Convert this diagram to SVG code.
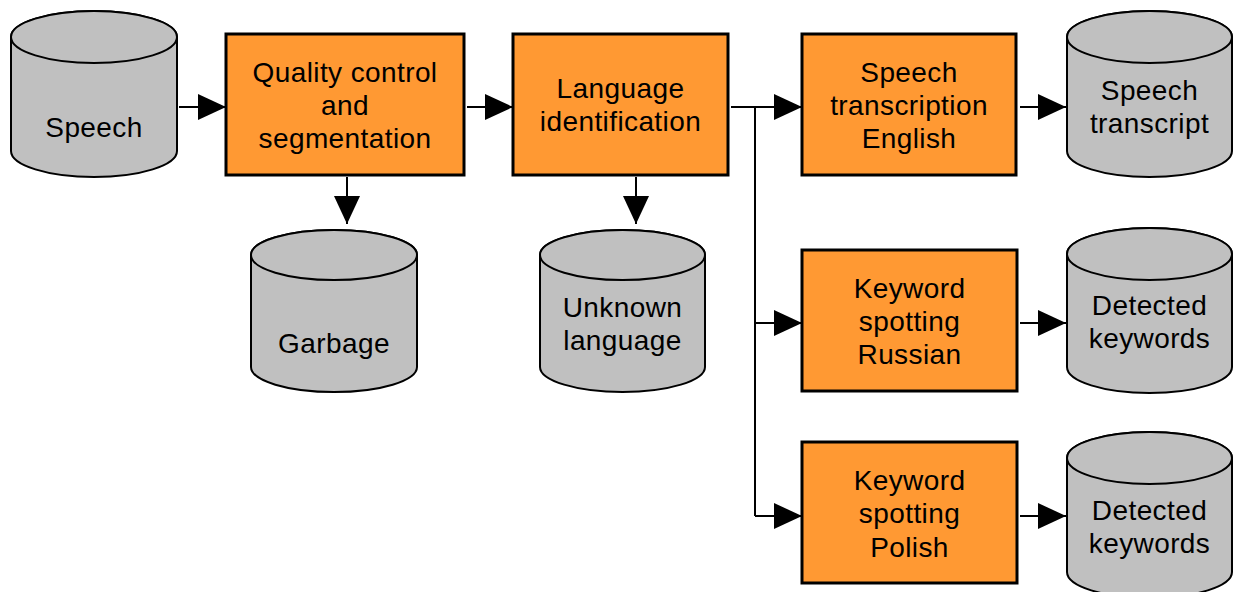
<svg xmlns="http://www.w3.org/2000/svg" width="1233" height="592" viewBox="0 0 1233 592">
<style>
.box{fill:#FF9933;stroke:#000;stroke-width:3}
.cyl{fill:#C0C0C0;stroke:#000;stroke-width:2}
.t{font-family:"Liberation Sans",Arial,sans-serif;font-size:28px;letter-spacing:0.4px;fill:#000;text-anchor:middle}
.c{fill:none;stroke:#000;stroke-width:2}
</style>
<defs>
<marker id="ah" markerUnits="userSpaceOnUse" markerWidth="28" markerHeight="26" refX="28" refY="13" orient="auto">
<path d="M0,0 L28,13 L0,26 Z" fill="#000"/>
</marker>
</defs>
<g id="connectors">
<path class="c" d="M179,107 L226,107" marker-end="url(#ah)"/>
<path class="c" d="M467,107 L513,107" marker-end="url(#ah)"/>
<path class="c" d="M731,107 L802,107" marker-end="url(#ah)"/>
<path class="c" d="M755,107 L755,516"/>
<path class="c" d="M755,323 L802,323" marker-end="url(#ah)"/>
<path class="c" d="M755,516 L802,516" marker-end="url(#ah)"/>
<path class="c" d="M1020,107 L1066,107" marker-end="url(#ah)"/>
<path class="c" d="M1020,323 L1066,323" marker-end="url(#ah)"/>
<path class="c" d="M1020,516 L1066,516" marker-end="url(#ah)"/>
<path class="c" d="M347,177 L347,224" marker-end="url(#ah)"/>
<path class="c" d="M636,177 L636,224" marker-end="url(#ah)"/>
</g>
<g id="speech">
<path class="cyl" d="M11,37 L11,151 A83,26 0 0 0 177,151 L177,37 A83,26 0 0 0 11,37 Z"/>
<ellipse class="cyl" cx="94" cy="37" rx="83" ry="26"/>
<text class="t" x="94" y="137">Speech</text>
</g>
<g id="quality">
<rect class="box" x="226" y="34" width="238" height="141"/>
<text class="t" x="345" y="82">Quality control</text>
<text class="t" x="345" y="115">and</text>
<text class="t" x="345" y="148">segmentation</text>
</g>
<g id="langid">
<rect class="box" x="513" y="34" width="215" height="141"/>
<text class="t" x="620.5" y="98">Language</text>
<text class="t" x="620.5" y="131">identification</text>
</g>
<g id="transcription">
<rect class="box" x="802" y="34" width="214" height="141"/>
<text class="t" x="909" y="82">Speech</text>
<text class="t" x="909" y="115">transcription</text>
<text class="t" x="909" y="148">English</text>
</g>
<g id="transcript">
<path class="cyl" d="M1067,37 L1067,151 A82.5,26 0 0 0 1232,151 L1232,37 A82.5,26 0 0 0 1067,37 Z"/>
<ellipse class="cyl" cx="1149.5" cy="37" rx="82.5" ry="26"/>
<text class="t" x="1149.5" y="100">Speech</text>
<text class="t" x="1149.5" y="133">transcript</text>
</g>
<g id="garbage">
<path class="cyl" d="M251,255 L251,367 A83,25 0 0 0 417,367 L417,255 A83,25 0 0 0 251,255 Z"/>
<ellipse class="cyl" cx="334" cy="255" rx="83" ry="25"/>
<text class="t" x="334" y="353">Garbage</text>
</g>
<g id="unknown">
<path class="cyl" d="M540,255 L540,367 A82.5,25 0 0 0 705,367 L705,255 A82.5,25 0 0 0 540,255 Z"/>
<ellipse class="cyl" cx="622.5" cy="255" rx="82.5" ry="25"/>
<text class="t" x="622.5" y="317">Unknown</text>
<text class="t" x="622.5" y="350">language</text>
</g>
<g id="kws-russian">
<rect class="box" x="802" y="250" width="215" height="141"/>
<text class="t" x="909.5" y="298">Keyword</text>
<text class="t" x="909.5" y="331">spotting</text>
<text class="t" x="909.5" y="364">Russian</text>
</g>
<g id="detected-russian">
<path class="cyl" d="M1067,254 L1067,367 A82.5,26 0 0 0 1232,367 L1232,254 A82.5,26 0 0 0 1067,254 Z"/>
<ellipse class="cyl" cx="1149.5" cy="254" rx="82.5" ry="26"/>
<text class="t" x="1149.5" y="315">Detected</text>
<text class="t" x="1149.5" y="348">keywords</text>
</g>
<g id="kws-polish">
<rect class="box" x="802" y="442" width="215" height="141"/>
<text class="t" x="909.5" y="490">Keyword</text>
<text class="t" x="909.5" y="523">spotting</text>
<text class="t" x="909.5" y="557">Polish</text>
</g>
<g id="detected-polish">
<path class="cyl" d="M1067,458 L1067,572 A82.5,26 0 0 0 1232,572 L1232,458 A82.5,26 0 0 0 1067,458 Z"/>
<ellipse class="cyl" cx="1149.5" cy="458" rx="82.5" ry="26"/>
<text class="t" x="1149.5" y="520">Detected</text>
<text class="t" x="1149.5" y="553">keywords</text>
</g>
</svg>
